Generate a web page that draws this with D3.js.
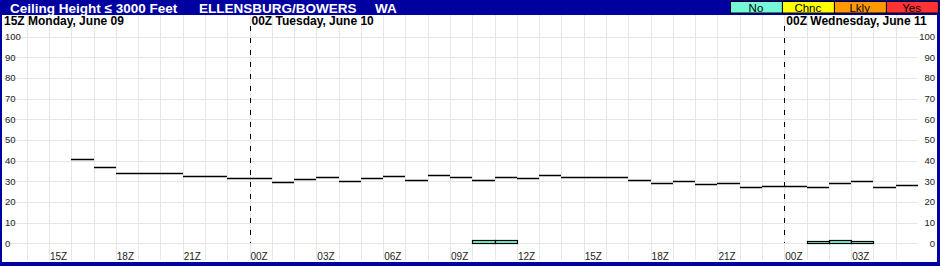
<!DOCTYPE html>
<html>
<head>
<meta charset="utf-8">
<script src="https://cdn.jsdelivr.net/npm/d3@7"></script>
<style>
  body { margin: 0; background: #fff; }
  svg { display: block; font-family: "Liberation Sans", Arial, sans-serif; }
</style>
</head>
<body>
<div id="chart"></div>
<script>
// hourly forecast, starting 16Z Monday June 09
var ceilingHeight = [41, 37, 34, 34, 34, 32.5, 32.5, 31.5,
  31.5, 29.5, 31, 32, 30, 31.5, 32.5, 30.5, 33, 32, 30.5, 32, 31.5, 33, 32, 32,
  32, 30.5, 29, 30, 28.5, 29, 27, 27.5,
  27.5, 27, 29, 30, 27, 28];
var ceilingProb = [0, 0, 0, 0, 0, 0, 0, 0,
  0, 0, 0, 0, 0, 0, 0, 0, 0, 0, 1.5, 1.5, 0, 0, 0, 0,
  0, 0, 0, 0, 0, 0, 0, 0,
  0, 1, 1.5, 1, 0, 0];
var probCategory = ["No", "Chnc", "Lkly", "Yes"];
var probColors = ["#76f9d7", "#ffff00", "#ff9900", "#ff3333"];
var hourTicks = ["15Z", "18Z", "21Z", "00Z", "03Z", "06Z", "09Z", "12Z", "15Z", "18Z", "21Z", "00Z", "03Z"];
var dayLabels = ["15Z Monday, June 09", "00Z Tuesday, June 10", "00Z Wednesday, June 11"];
var yTicks = [0, 10, 20, 30, 40, 50, 60, 70, 80, 90, 100];

var width = 940, height = 266,
    navy = "#0000a0";

var t0 = Date.UTC(2025, 5, 9, 13),
    hour = 3600 * 1000,
    dataStart = new Date(Date.UTC(2025, 5, 9, 16));

var x = d3.scaleUtc()
    .domain([new Date(t0), new Date(t0 + 41 * hour)])
    .range([4.4, 918]);

var y = d3.scaleLinear()
    .domain([0, 100])
    .range([243.3, 36.6]);

var px = function(v) { return Math.round(v) + 0.5; };

var svg = d3.select("#chart").append("svg")
    .attr("width", width)
    .attr("height", height);

svg.append("rect").attr("width", width).attr("height", height).attr("fill", navy);
svg.append("rect").attr("x", 2).attr("y", 15).attr("width", 935).attr("height", 247).attr("fill", "#fff");

// grid
var hours = d3.range(0, 42).map(function(i) { return new Date(t0 + i * hour); });
svg.append("g").selectAll("line")
    .data(hours.slice(1, 41))
  .enter().append("line")
    .attr("x1", function(d) { return px(x(d)); })
    .attr("x2", function(d) { return px(x(d)); })
    .attr("y1", 15).attr("y2", 260)
    .attr("stroke", "#e6e6e6");

svg.append("g").selectAll("line")
    .data(yTicks)
  .enter().append("line")
    .attr("x1", 4).attr("x2", 918)
    .attr("y1", function(d) { return px(y(d)); })
    .attr("y2", function(d) { return px(y(d)); })
    .attr("stroke", "#e6e6e6");

// y labels on both sides
[[5, "start"], [935, "end"]].forEach(function(s) {
  svg.append("g").selectAll("text")
      .data(yTicks)
    .enter().append("text")
      .attr("x", s[0])
      .attr("y", function(d) { return y(d) + 3.5; })
      .attr("text-anchor", s[1])
      .attr("font-size", 9.5)
      .attr("fill", "#222")
      .text(function(d) { return d; });
});

// x tick labels
var tickDates = hourTicks.map(function(l, i) { return new Date(t0 + (2 + 3 * i) * hour); });
svg.append("g").selectAll("text")
    .data(tickDates)
  .enter().append("text")
    .attr("x", function(d) { return x(d) + 1; })
    .attr("y", 260)
    .attr("font-size", 10)
    .attr("fill", "#222")
    .text(function(d, i) { return hourTicks[i]; });

// day separators
var dayDates = [new Date(Date.UTC(2025, 5, 10)), new Date(Date.UTC(2025, 5, 11))];
svg.append("g").selectAll("line")
    .data(dayDates)
  .enter().append("line")
    .attr("x1", function(d) { return px(x(d)); })
    .attr("x2", function(d) { return px(x(d)); })
    .attr("y1", 26).attr("y2", 243)
    .attr("stroke", "#000")
    .attr("stroke-dasharray", "5,7");

svg.append("g").selectAll("text")
    .data(dayLabels)
  .enter().append("text")
    .attr("x", function(d, i) { return i == 0 ? 4 : x(dayDates[i - 1]) + 2; })
    .attr("y", 25)
    .attr("font-size", 12)
    .attr("font-weight", "bold")
    .text(function(d) { return d; });

// probability bars
var hx = function(i) { return Math.round(x(d3.utcHour.offset(dataStart, i))); };
svg.append("g").selectAll("rect")
    .data(ceilingProb)
  .enter().append("rect")
    .attr("x", function(d, i) { return hx(i) + 0.5; })
    .attr("width", function(d, i) { return hx(i + 1) - hx(i); })
    .attr("y", function(d) { return Math.round(y(d)) + 0.5; })
    .attr("height", function(d) { return Math.round(y(0)) - Math.round(y(d)); })
    .attr("fill", probColors[0])
    .attr("stroke", "#000")
    .attr("stroke-width", 1.2);

// ceiling height segments
svg.append("g").selectAll("line")
    .data(ceilingHeight)
  .enter().append("line")
    .attr("x1", function(d, i) { return hx(i); })
    .attr("x2", function(d, i) { return hx(i + 1); })
    .attr("y1", function(d) { return Math.round(y(d)) + 0.5; })
    .attr("y2", function(d) { return Math.round(y(d)) + 0.5; })
    .attr("stroke", "#000")
    .attr("stroke-width", 1.5);

// title bar
var title = svg.append("g").attr("fill", "#fff").attr("font-size", 13.5).attr("font-weight", "bold");
title.append("text").attr("x", 10).attr("y", 12.5).text("Ceiling Height \u2264 3000 Feet");
title.append("text").attr("x", 199).attr("y", 12.5).text("ELLENSBURG/BOWERS");
title.append("text").attr("x", 375).attr("y", 12.5).text("WA");

// legend
var legX = d3.scaleBand().domain(probCategory).range([730, 937.5]);
var leg = svg.append("g").selectAll("g")
    .data(probCategory)
  .enter().append("g");
leg.append("rect")
    .attr("x", function(d) { return Math.round(legX(d)) + 0.5; })
    .attr("y", 1.5)
    .attr("width", legX.bandwidth())
    .attr("height", 11.5)
    .attr("fill", function(d, i) { return probColors[i]; })
    .attr("stroke", "#000");
leg.append("text")
    .attr("x", function(d) { return legX(d) + legX.bandwidth() / 2; })
    .attr("y", 11.5)
    .attr("text-anchor", "middle")
    .attr("font-size", 11.5)
    .attr("fill", "#000")
    .text(function(d) { return d; });
</script>
</body>
</html>
